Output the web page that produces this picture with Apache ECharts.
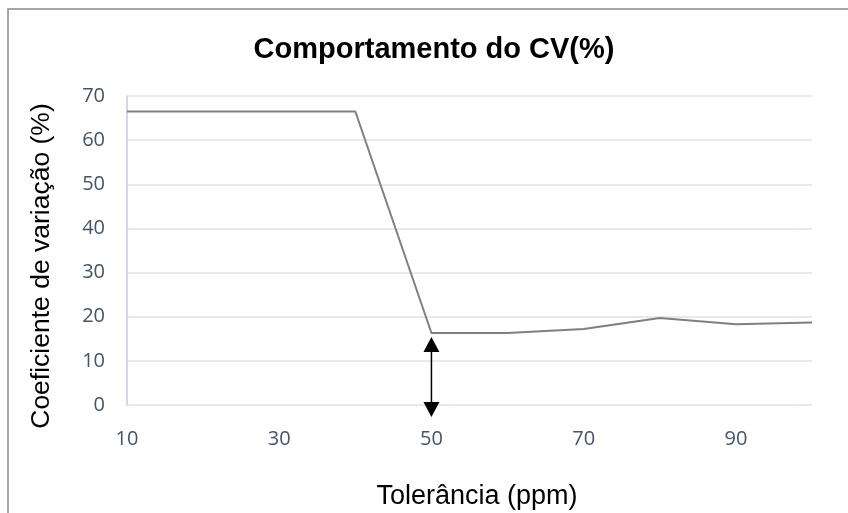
<!DOCTYPE html>
<html>
<head>
<meta charset="utf-8">
<script src="https://cdn.jsdelivr.net/npm/echarts@6/dist/echarts.min.js"></script>
<style>
  html, body { margin: 0; padding: 0; background: #fff; }
  #chart { width: 848px; height: 513px; }
</style>
</head>
<body>
<div id="chart"></div>
<script>
// Tolerance (ppm) and the coefficient of variation measured at each step
const tolerance = [10, 20, 30, 40, 50, 60, 70, 80, 90, 100];
const cvPercent = [66.5, 66.5, 66.5, 66.5, 16.3, 16.3, 17.2, 19.7, 18.3, 18.7];

// Double-headed marker at the chosen tolerance (centres of the two heads)
const markerX = 50;
const markerTop = 13.7;
const markerBottom = -1.0;

const titleText = 'Comportamento do CV(%)';
const xName = 'Tolerância (ppm)';
const yName = 'Coeficiente de variação (%)';

const chart = echarts.init(document.getElementById('chart'));

chart.setOption({
  backgroundColor: '#ffffff',
  animation: false,
  grid: { left: 127, right: 36, top: 96, bottom: 108 },
  graphic: [
    {
      type: 'rect',
      shape: { x: 8, y: 9, width: 900, height: 600 },
      style: { fill: 'none', stroke: '#8a8a8a', lineWidth: 1.5 },
      silent: true
    },
    {
      type: 'text',
      x: 434, y: 50,
      style: {
        text: titleText,
        fontFamily: 'Liberation Sans, Arial, sans-serif',
        fontWeight: 'bold', fontSize: 29,
        fill: '#000', align: 'center', verticalAlign: 'middle'
      }
    },
    {
      type: 'text',
      x: 477, y: 497,
      style: {
        text: xName,
        fontFamily: 'Liberation Sans, Arial, sans-serif',
        fontSize: 27, fill: '#000', align: 'center', verticalAlign: 'middle'
      }
    },
    {
      type: 'text',
      x: 42, y: 266, rotation: Math.PI / 2,
      style: {
        text: yName,
        fontFamily: 'Liberation Sans, Arial, sans-serif',
        fontSize: 26.5, fill: '#000', align: 'center', verticalAlign: 'middle'
      }
    }
  ],
  xAxis: {
    type: 'value',
    min: 10, max: 100, interval: 20,
    axisLine: { show: false },
    axisTick: { show: false },
    splitLine: { show: false },
    axisLabel: {
      showMaxLabel: false,
      margin: 24,
      color: '#44546a',
      fontFamily: 'Open Sans, sans-serif',
      fontSize: 20
    }
  },
  yAxis: {
    type: 'value',
    min: 0, max: 70, interval: 10,
    axisLine: { show: true, lineStyle: { color: '#c3ccd9', width: 1.5 } },
    axisTick: { show: false },
    splitLine: { show: true, lineStyle: { color: '#dde3ec', width: 1.5 } },
    axisLabel: {
      margin: 22,
      color: '#44546a',
      fontFamily: 'Open Sans, sans-serif',
      fontSize: 20
    }
  },
  series: [
    {
      type: 'line',
      data: tolerance.map((t, i) => [t, cvPercent[i]]),
      symbol: 'none',
      lineStyle: { color: '#7f7f7f', width: 2 },
      z: 2
    },
    {
      type: 'line',
      clip: false,
      z: 3,
      data: [
        { value: [markerX, markerTop], symbolRotate: 0 },
        { value: [markerX, markerBottom], symbolRotate: 180 }
      ],
      symbol: 'triangle',
      symbolSize: [16, 15],
      showSymbol: true,
      itemStyle: { color: '#000' },
      lineStyle: { color: '#000', width: 1.5 }
    }
  ]
});
</script>
</body>
</html>
